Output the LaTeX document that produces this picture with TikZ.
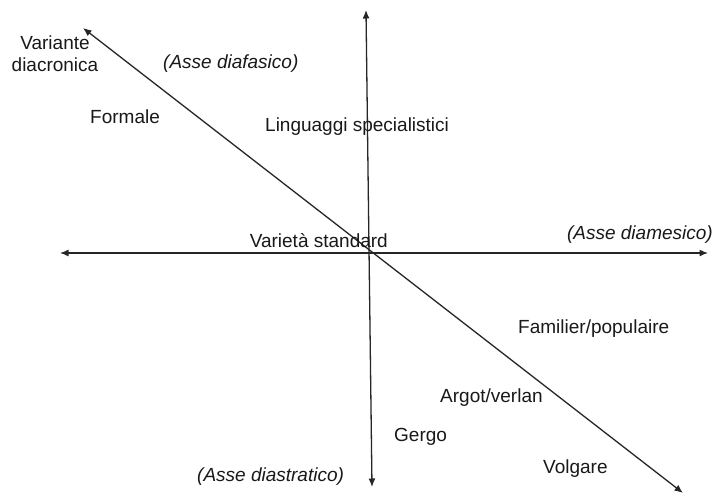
\documentclass[tikz,border=0pt]{standalone}
\usepackage{fontspec}
\setmainfont{Liberation Sans}
\usetikzlibrary{arrows.meta}
\tikzset{
  axisline/.style={line width=1.3pt, draw=black!85, {Latex[length=8.5pt,width=7pt]}-{Latex[length=8.5pt,width=7pt]}},
  lbl/.style={inner sep=0pt, font=\fontsize{19}{22}\selectfont, text=black!90},
  ilbl/.style={lbl, font=\fontsize{19}{22}\selectfont\itshape}
}
\begin{document}
\begin{tikzpicture}[x=1pt,y=-1pt]
\useasboundingbox[fill=white] (0,0) rectangle (715,495);
% axis ends
\coordinate (hL) at (60,253);
\coordinate (hR) at (708,253);
\coordinate (vT) at (366,10);
\coordinate (vB) at (372,487);
\coordinate (dT) at (83,28);
\coordinate (dB) at (683,493);
\draw[axisline] (hL) -- (hR);
\draw[axisline] (vT) -- (vB);
\draw[axisline] (dT) -- (dB);
% labels
\node[lbl, align=center, anchor=base] (vd) at (55,71.5) {Variante\\diacronica};
\node[ilbl, anchor=base west] (afas) at (163,69) {(Asse diafasico)};
\node[lbl, anchor=base west] (form) at (90,123.5) {Formale};
\node[lbl, anchor=base west] (ling) at (265,131) {Linguaggi specialistici};
\node[lbl, anchor=base east] (std) at (388,247) {Varietà standard};
\node[ilbl, anchor=base east] (ames) at (713,239) {(Asse diamesico)};
\node[lbl, anchor=base west] (fam) at (518,333) {Familier/populaire};
\node[lbl, anchor=base west] (arg) at (440,402) {Argot/verlan};
\node[lbl, anchor=base west] (ger) at (394,441) {Gergo};
\node[lbl, anchor=base west] (vol) at (543,473) {Volgare};
\node[ilbl, anchor=base west] (astr) at (197,481) {(Asse diastratico)};
\end{tikzpicture}
\end{document}
